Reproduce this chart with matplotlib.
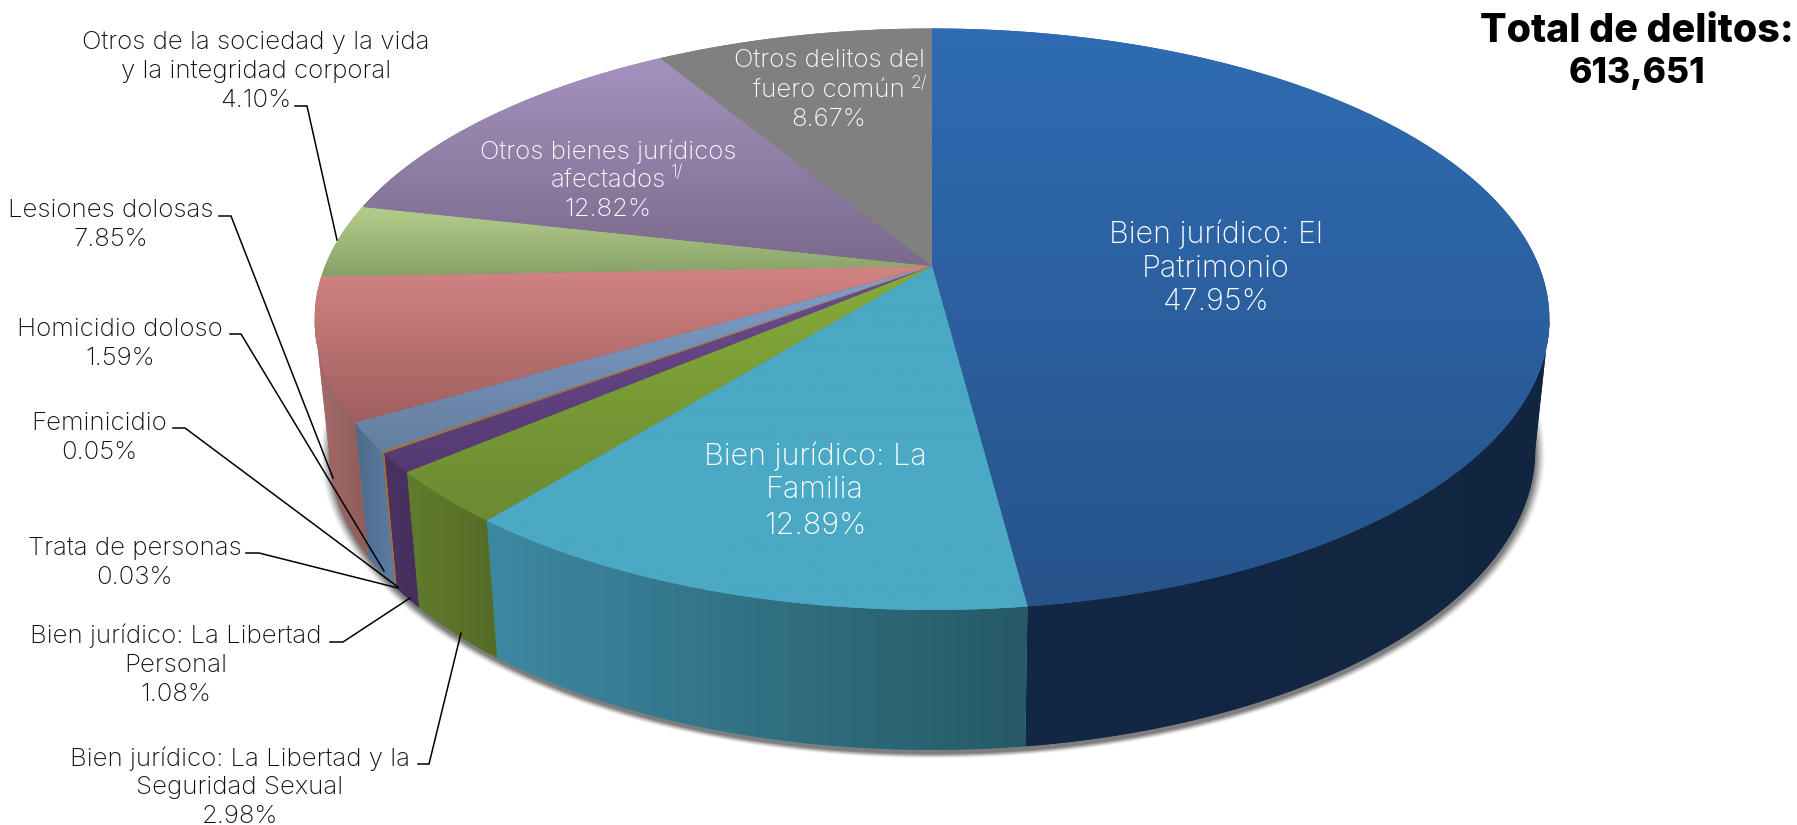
import numpy as np
import matplotlib
matplotlib.use("Agg")
import matplotlib.pyplot as plt
from matplotlib.colors import to_rgb
from matplotlib.patches import Polygon
from matplotlib.path import Path
from matplotlib.transforms import Transform

# ---------- data ----------
categories = [
    "Bien jurídico: El\nPatrimonio",
    "Bien jurídico: La\nFamilia",
    "Bien jurídico: La Libertad y la\nSeguridad Sexual",
    "Bien jurídico: La Libertad\nPersonal",
    "Trata de personas",
    "Feminicidio",
    "Homicidio doloso",
    "Lesiones dolosas",
    "Otros de la sociedad y la vida\ny la integridad corporal",
    "Otros bienes jurídicos\nafectados",
    "Otros delitos del\nfuero común",
]
values = [47.95, 12.89, 2.98, 1.08, 0.03, 0.05, 1.59, 7.85, 4.10, 12.82, 8.67]
title_lines = ["Total de delitos:", "613,651"]

# ---------- styles ----------
top_colors = [("#2f6cb3", "#27538a"), ("#4aa9c4", "#4aa9c4"), ("#86ab3a", "#6c8a32"),
              ("#6d4c92", "#553a72"), ("#c47a30", "#b8722c"), ("#b07a40", "#a87038"),
              ("#7f9fcc", "#667f9f"), ("#d28483", "#9e5f5e"), ("#b6ce8c", "#87a068"),
              ("#a592bf", "#7a6a8c"), ("#808080", "#808080")]
side_colors = [("#132846", "#122540"), ("#3d88a1", "#265a66"), ("#617c2d", "#556b26"),
               ("#4a3263", "#44305c"), ("#b8722c", "#b8722c"), ("#a87038", "#a87038"),
               ("#4f6a8a", "#5c7da3"), ("#a56b69", "#8e5c5a"), ("#7e9462", "#8aa06c"),
               ("#6a5b7c", "#6a5b7c"), ("#666666", "#666666")]

LBL = ["Inter", "DejaVu Sans"]
TXT = dict(family=LBL, ha="center", va="center", zorder=20)
SMALL, BIG = 18.6, 22
DY = 2.5


class Persp(Transform):
    """Perspective projection of the unit disc onto the picture plane."""
    input_dims = output_dims = 2
    is_affine = False
    has_inverse = False

    def __init__(self, cx, cy, a, b, k):
        super().__init__()
        self.p = (cx, cy, a, b, k)

    def transform_non_affine(self, xy):
        cx, cy, a, b, k = self.p
        xy = np.asarray(xy, float)
        w = 1 + k * xy[:, 1]
        return np.column_stack([cx + a * xy[:, 0] / w, cy - b * xy[:, 1] / w])

    def transform_path_non_affine(self, path):
        pts = []
        for seg, code in path.iter_bezier():
            if code == Path.MOVETO:
                continue
            pts.append(seg(np.linspace(0, 1, 40)))
        return Path(self.transform_non_affine(np.vstack(pts)), closed=False)


K = 0.183
top = Persp(932, 266, 607, 281, K)
bot = Persp(932, 395, 593, 290, K)
# the wall faces the viewer between the two tangent points of the projected rim
fold = np.degrees(np.arcsin(K))
FRONT = (180 + fold, 360 - fold)

fig = plt.figure(figsize=(17.97, 8.25), dpi=100, facecolor="white")
ax = fig.add_axes([0, 0, 1, 1])

wedges, _ = ax.pie(values, startangle=90, counterclock=False, radius=1,
                   colors=[c[1] for c in top_colors], frame=False)
ax.set_aspect("auto")
ax.set_xlim(0, 1797)
ax.set_ylim(825, 0)
ax.axis("off")


def arc(tr, t1, t2, n=120):
    t = np.radians(np.linspace(t1, t2, n))
    return tr.transform_non_affine(np.column_stack([np.cos(t), np.sin(t)]))


def visible(t1, t2):
    for shift in (-360, 0, 360, 720):
        a, b = max(t1 + shift, FRONT[0]), min(t2 + shift, FRONT[1])
        if b > a:
            return a, b
    return None


def gradient(c1, c2, vertical):
    c1, c2 = np.array(to_rgb(c1)), np.array(to_rgb(c2))
    f = np.linspace(0, 1, 256)[:, None]
    g = c1 * (1 - f) + c2 * f
    return g[:, None, :] if vertical else g[None, :, :]


# soft shadow below the pie
outline = arc(bot, 0, 360, 360)
centre = np.array([932, 452])
for d, alpha in zip(np.linspace(9, 0, 12), np.linspace(0.02, 0.09, 12)):
    pts = centre + (outline - centre) * (1 + d / 600) + np.array([1, 4])
    ax.add_patch(Polygon(pts, closed=True, fc="black", ec="none", alpha=alpha, zorder=1))

# side walls (front-facing part only)
for i, w in enumerate(wedges):
    rng = visible(w.theta1, w.theta2)
    if rng is None:
        continue
    a_top = arc(top, *rng)
    a_bot = arc(bot, *rng)
    poly = np.vstack([a_top, a_bot[::-1]])
    z = 2 + i * 0.01
    thin = values[i] < 0.5
    p = Polygon(poly, closed=True, fc=side_colors[i][0],
                ec=side_colors[i][0] if thin else "none", lw=0.5 if thin else 0, zorder=z)
    ax.add_patch(p)
    if not thin:
        x0, x1, y0, y1 = poly[:, 0].min(), poly[:, 0].max(), poly[:, 1].min(), poly[:, 1].max()
        im = ax.imshow(gradient(*side_colors[i], vertical=False), extent=[x0, x1, y1, y0],
                       aspect="auto", interpolation="bilinear", zorder=z)
        im.set_clip_path(p)

# top faces: the pie's own wedges, projected
for i, w in enumerate(wedges):
    w.set_transform(top + ax.transData)
    w.set_zorder(4 + i * 0.01)
    thin = values[i] < 0.5
    w.set_edgecolor(top_colors[i][1] if thin else "none")
    w.set_linewidth(0.5 if thin else 0)
    w.set_clip_on(False)
    if not thin:
        poly = top.transform_path_non_affine(w.get_path()).vertices
        x0, x1, y0, y1 = poly[:, 0].min(), poly[:, 0].max(), poly[:, 1].min(), poly[:, 1].max()
        im = ax.imshow(gradient(*top_colors[i], vertical=True), extent=[x0, x1, y1, y0],
                       aspect="auto", interpolation="bilinear", zorder=4 + i * 0.01)
        im.set_clip_path(w)
ax.set_xlim(0, 1797)
ax.set_ylim(825, 0)


def pct(i):
    return f"{values[i]:.2f}%"


def put(i, x, ys, color, size):
    lines = categories[i].split("\n") + [pct(i)]
    for line, y in zip(lines, ys):
        ax.text(x, y + DY, line, color=color, fontsize=size, fontweight="light", **TXT)


# inside labels
put(0, 1216, (232, 266, 300), "white", BIG)
put(1, 815, (454, 488, 523), "white", BIG)
put(9, 608, (149, 179, 207), "white", SMALL)
put(10, 829, (58, 88, 117), "white", SMALL)
ax.text(677, 170 + DY, "1/", color="white", fontsize=12.5, fontweight="light", **TXT)
ax.text(919, 81 + DY, "2/", color="white", fontsize=12.5, fontweight="light", **TXT)

# outside labels
put(8, 256, (40, 69, 98), "#111111", SMALL)
put(7, 111, (208, 237), "#111111", SMALL)
put(6, 120, (327, 356), "#111111", SMALL)
put(5, 99, (421, 450), "#111111", SMALL)
put(4, 135, (546, 575), "#111111", SMALL)
put(3, 176, (633, 663, 692), "#111111", SMALL)
put(2, 240, (756, 785, 814), "#111111", SMALL)

# leader lines
leaders = [
    [(295, 106), (307, 106), (337, 240)],
    [(219, 216), (231, 216), (333, 478)],
    [(230, 334), (241, 334), (384, 571)],
    [(173, 428), (185, 428), (398, 587)],
    [(246, 553), (259, 553), (398, 588)],
    [(330, 642), (343, 642), (410, 598)],
    [(418, 764), (429, 764), (461, 633)],
]
for pts in leaders:
    xs, ys = zip(*pts)
    ax.plot(xs, ys, color="black", lw=1.1, zorder=15, solid_joinstyle="miter")

# title
ax.text(1637, 31, title_lines[0], color="black", fontsize=28.4, fontweight="heavy", **TXT)
ax.text(1637, 74, title_lines[1], color="black", fontsize=25.5, fontweight="heavy", **TXT)

fig.savefig("out.png", dpi=100, facecolor="white")
